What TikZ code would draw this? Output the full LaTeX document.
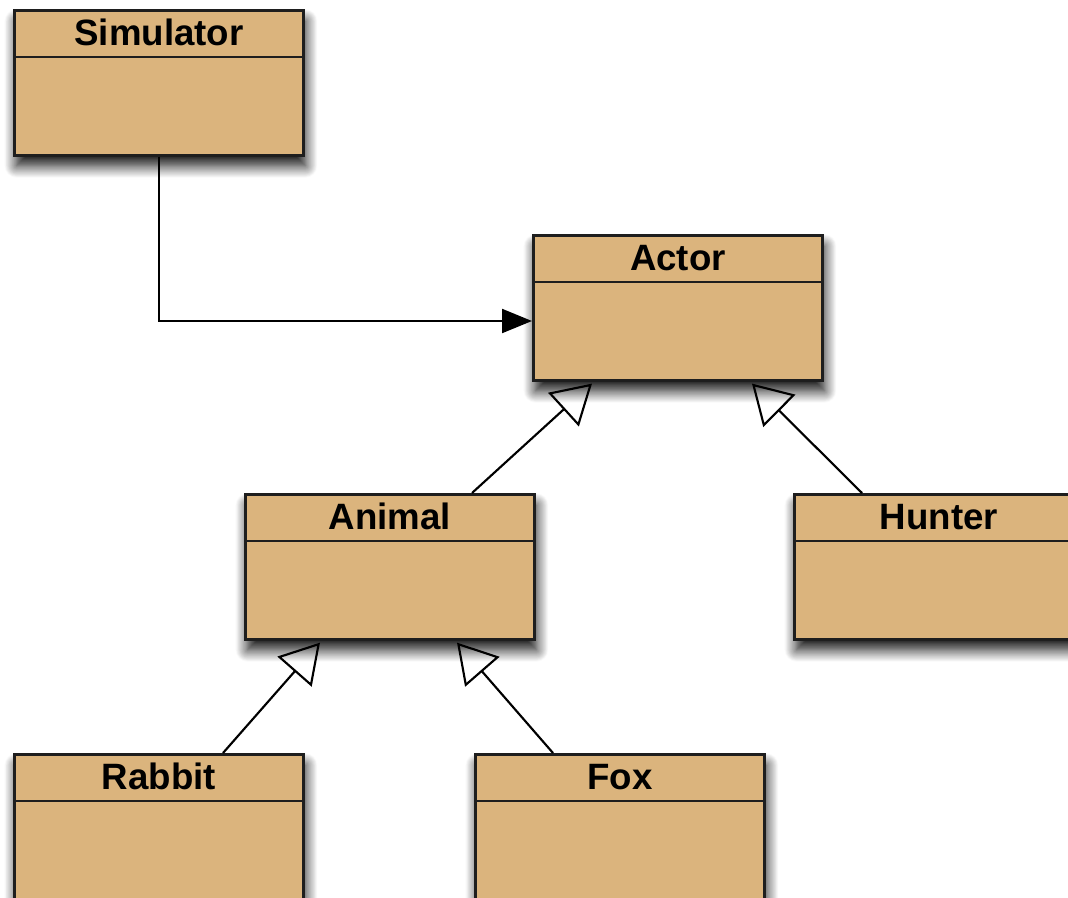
\documentclass[tikz,border=0pt]{standalone}
\usepackage{fontspec}
\setmainfont{Liberation Sans}
\usetikzlibrary{arrows.meta,shadows.blur,calc}
\definecolor{classfill}{RGB}{219,180,125}
\definecolor{edge}{RGB}{30,30,30}
\tikzset{
  classbox/.style={draw=edge, line width=2.2pt, fill=classfill, rectangle,
    minimum width=216.75pt, minimum height=108.5pt, anchor=north west, inner sep=0pt,
    blur shadow={shadow xshift=1.5pt, shadow yshift=-8pt, shadow blur radius=9pt, shadow blur steps=14, shadow opacity=95}},
  classtitle/.style={anchor=base, inner sep=0pt, font=\fontsize{27.5}{30}\selectfont\bfseries},
  headline/.style={draw=edge, line width=2pt},
  inherit/.style={draw=black, line width=1.6pt, -{Triangle[open, length=29pt, width=34pt, line width=1.6pt]}},
  assoc/.style={draw=black, line width=1.6pt, -{Triangle[length=22.5pt, width=18pt]}}
}
\begin{document}
\begin{tikzpicture}[x=0.75pt, y=-0.75pt]
\useasboundingbox (0,0) rectangle (1068,897);
\clip (0,0) rectangle (1068,897);
% classes
\node[classbox] (sim) at (13,9) {};
\node[classbox] (actor) at (532,234) {};
\node[classbox] (animal) at (244,493) {};
\node[classbox] (hunter) at (793,493) {};
\node[classbox] (rabbit) at (13,753) {};
\node[classbox] (fox) at (474,753) {};
% header lines and titles
\foreach \n/\t in {sim/Simulator, actor/Actor, animal/Animal, hunter/Hunter, rabbit/Rabbit, fox/Fox}{
  \draw[headline] ($(\n.north west)+(0,48)$) -- ($(\n.north east)+(0,48)$);
  \node[classtitle] (\n-title) at ($(\n.north)+(0,36)$) {\t};
}
% connectors
\draw[assoc] (sim.south) |- ($(actor.north west)+(0,87)$);
\draw[inherit] ($(animal.north west)+(228,0)$) -- ($(actor.south west)+(60,2)$);
\draw[inherit] ($(hunter.north west)+(69,0)$) -- ($(actor.south west)+(220,2)$);
\draw[inherit] ($(rabbit.north west)+(210,0)$) -- ($(animal.south west)+(76,2)$);
\draw[inherit] ($(fox.north west)+(79,0)$) -- ($(animal.south west)+(213,2)$);
\end{tikzpicture}
\end{document}
